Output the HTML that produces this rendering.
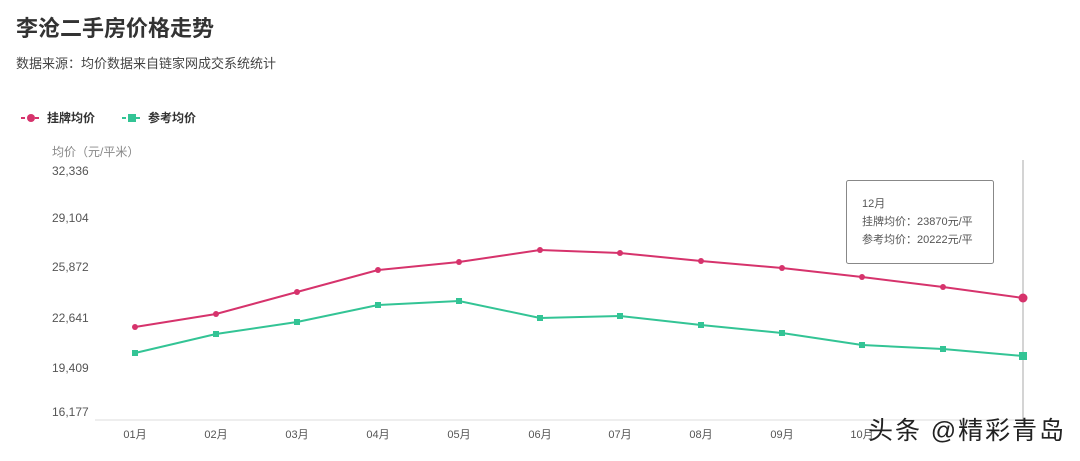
<!DOCTYPE html><html><head><meta charset="utf-8"><style>
body{margin:0;width:1080px;height:456px;background:#fff;overflow:hidden;font-family:"Liberation Sans","Noto Sans CJK SC",sans-serif}
</style></head><body>
<svg width="1080" height="456" xmlns="http://www.w3.org/2000/svg" font-family="Liberation Sans, Noto Sans CJK SC, sans-serif">
<text x="16" y="36" font-size="22" font-weight="bold" fill="#333">李沧二手房价格走势</text>
<text x="16" y="68" font-size="13" fill="#444">数据来源：均价数据来自链家网成交系统统计</text>
<line x1="21" y1="118" x2="41" y2="118" stroke="#d6336c" stroke-width="2" stroke-dasharray="4,3"/><circle cx="31" cy="118" r="4" fill="#d6336c"/>
<text x="47" y="122" font-size="12" font-weight="bold" fill="#333">挂牌均价</text>
<line x1="122" y1="118" x2="142" y2="118" stroke="#33c495" stroke-width="2" stroke-dasharray="4,3"/><rect x="128" y="114" width="8" height="8" fill="#33c495"/>
<text x="148" y="122" font-size="12" font-weight="bold" fill="#333">参考均价</text>
<text x="52" y="156" font-size="12" fill="#888">均价（元/平米）</text>
<g font-size="12" fill="#555">
<text x="52" y="175">32,336</text><text x="52" y="222">29,104</text><text x="52" y="271">25,872</text><text x="52" y="322">22,641</text><text x="52" y="372">19,409</text><text x="52" y="416">16,177</text>
</g>
<line x1="95" y1="420" x2="1030" y2="420" stroke="#ddd"/>
<line x1="1023" y1="160" x2="1023" y2="420" stroke="#aaa"/>
<g font-size="11" fill="#555" text-anchor="middle">
<text x="135" y="438">01月</text><text x="216" y="438">02月</text><text x="297" y="438">03月</text><text x="378" y="438">04月</text><text x="459" y="438">05月</text><text x="540" y="438">06月</text><text x="620" y="438">07月</text><text x="701" y="438">08月</text><text x="782" y="438">09月</text><text x="862" y="438">10月</text>
</g>
<polyline fill="none" stroke="#d6336c" stroke-width="2" points="135,327 216,314 297,292 378,270 459,262 540,250 620,253 701,261 782,268 862,277 943,287 1023,298"/>
<g fill="#d6336c"><circle cx="135" cy="327" r="3"/><circle cx="216" cy="314" r="3"/><circle cx="297" cy="292" r="3"/><circle cx="378" cy="270" r="3"/><circle cx="459" cy="262" r="3"/><circle cx="540" cy="250" r="3"/><circle cx="620" cy="253" r="3"/><circle cx="701" cy="261" r="3"/><circle cx="782" cy="268" r="3"/><circle cx="862" cy="277" r="3"/><circle cx="943" cy="287" r="3"/><circle cx="1023" cy="298" r="4.5"/></g>
<polyline fill="none" stroke="#33c495" stroke-width="2" points="135,353 216,334 297,322 378,305 459,301 540,318 620,316 701,325 782,333 862,345 943,349 1023,356"/>
<g fill="#33c495"><rect x="132" y="350" width="6" height="6"/><rect x="213" y="331" width="6" height="6"/><rect x="294" y="319" width="6" height="6"/><rect x="375" y="302" width="6" height="6"/><rect x="456" y="298" width="6" height="6"/><rect x="537" y="315" width="6" height="6"/><rect x="617" y="313" width="6" height="6"/><rect x="698" y="322" width="6" height="6"/><rect x="779" y="330" width="6" height="6"/><rect x="859" y="342" width="6" height="6"/><rect x="940" y="346" width="6" height="6"/><rect x="1019" y="352" width="8" height="8"/></g>
<rect x="846.5" y="180.5" width="147" height="83" fill="#fff" stroke="#888" rx="2"/>
<g font-size="11" fill="#555"><text x="862" y="207">12月</text><text x="862" y="225">挂牌均价：23870元/平</text><text x="862" y="243">参考均价：20222元/平</text></g>
<text x="868" y="439" font-size="25" fill="#222" textLength="196">头条 @精彩青岛</text>
</svg></body></html>
